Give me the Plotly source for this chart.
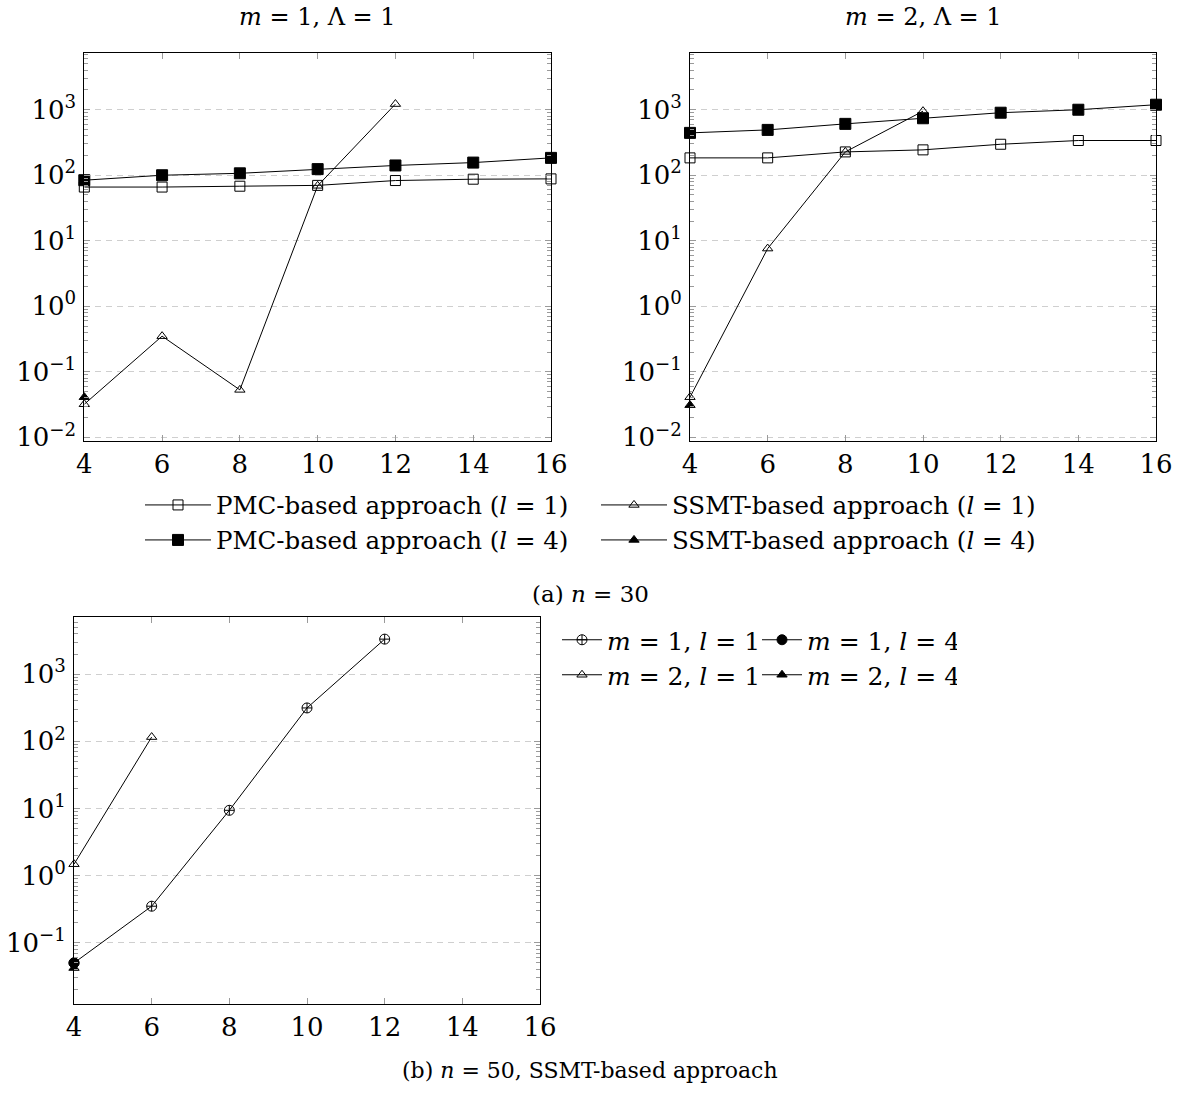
import plotly.graph_objects as go

# ---------------- data ----------------
x_all = [4, 6, 8, 10, 12, 14, 16]

# (a) n = 30, m = 1
pmc_l1_m1 = [66, 66, 68, 70, 83, 87, 88]
pmc_l4_m1 = [84, 100, 107, 124, 141, 156, 184]
ssmt_l1_m1_x = [4, 6, 8, 10, 12]
ssmt_l1_m1 = [0.032, 0.35, 0.053, 69, 1220]
ssmt_l4_m1_x = [4]
ssmt_l4_m1 = [0.041]

# (a) n = 30, m = 2
pmc_l1_m2 = [184, 184, 227, 244, 297, 339, 339]
pmc_l4_m2 = [443, 492, 608, 741, 900, 1000, 1192]
ssmt_l1_m2_x = [4, 6, 8, 10]
ssmt_l1_m2 = [0.041, 7.6, 227, 950]
ssmt_l4_m2_x = [4]
ssmt_l4_m2 = [0.031]

# (b) n = 50, SSMT
b_m1l1_x = [4, 6, 8, 10, 12]
b_m1l1 = [0.05, 0.35, 9.4, 315, 3340]
b_m1l4_x = [4]
b_m1l4 = [0.05]
b_m2l1_x = [4, 6]
b_m2l1 = [1.48, 116]
b_m2l4_x = [4]
b_m2l4 = [0.042]

x_ticks = [4, 6, 8, 10, 12, 14, 16]
y_tickvals = [0.01, 0.1, 1, 10, 100, 1000]
y_ticktext = ["10<sup>−2</sup>", "10<sup>−1</sup>", "10<sup>0</sup>",
              "10<sup>1</sup>", "10<sup>2</sup>", "10<sup>3</sup>"]

legend_a = ["PMC-based approach (<i>l</i> = 1)", "SSMT-based approach (<i>l</i> = 1)",
            "PMC-based approach (<i>l</i> = 4)", "SSMT-based approach (<i>l</i> = 4)"]
legend_b = ["<i>m</i> = 1, <i>l</i> = 1", "<i>m</i> = 1, <i>l</i> = 4",
            "<i>m</i> = 2, <i>l</i> = 1", "<i>m</i> = 2, <i>l</i> = 4"]

FONT = "DejaVu Serif"
W, H = 1180, 1093

fig = go.Figure()


def add(xs, ys, xa, ya, sym, size, name, legend, show):
    fig.add_trace(go.Scatter(
        x=xs, y=ys, xaxis=xa, yaxis=ya, mode="lines+markers", name=name,
        line=dict(color="black", width=1), cliponaxis=False,
        marker=dict(symbol=sym, size=size, color="black",
                    line=dict(color="black", width=1)),
        legend=legend, showlegend=show))


# top-left
add(x_all, pmc_l1_m1, "x", "y", "square-open", 10, legend_a[0], "legend", True)
add(ssmt_l1_m1_x, ssmt_l1_m1, "x", "y", "triangle-up-open", 9, legend_a[1], "legend", True)
add(x_all, pmc_l4_m1, "x", "y", "square", 11, legend_a[2], "legend2", True)
add(ssmt_l4_m1_x, ssmt_l4_m1, "x", "y", "triangle-up", 9, legend_a[3], "legend2", True)
# top-right
add(x_all, pmc_l1_m2, "x2", "y2", "square-open", 10, legend_a[0], "legend", False)
add(ssmt_l1_m2_x, ssmt_l1_m2, "x2", "y2", "triangle-up-open", 9, legend_a[1], "legend", False)
add(x_all, pmc_l4_m2, "x2", "y2", "square", 11, legend_a[2], "legend2", False)
add(ssmt_l4_m2_x, ssmt_l4_m2, "x2", "y2", "triangle-up", 9, legend_a[3], "legend2", False)
# bottom
add(b_m1l1_x, b_m1l1, "x3", "y3", "circle-cross-open", 10, legend_b[0], "legend3", True)
add(b_m1l4_x, b_m1l4, "x3", "y3", "circle", 10, legend_b[1], "legend3", True)
add(b_m2l1_x, b_m2l1, "x3", "y3", "triangle-up-open", 9, legend_b[2], "legend4", True)
add(b_m2l4_x, b_m2l4, "x3", "y3", "triangle-up", 9, legend_b[3], "legend4", True)


def px_x(p):
    return p / W


def px_y(p):
    return 1 - p / H


minor_vals = [k * 10.0 ** e for e in range(-3, 4) for k in range(2, 10)]

xcommon = dict(range=[4, 16], tickvals=x_ticks, ticks="inside", ticklen=6,
               tickcolor="#9a9a9a", showline=True, linecolor="black", linewidth=1,
               mirror="allticks", showgrid=False, zeroline=False,
               tickfont=dict(family=FONT, size=26, color="black"))
ycommon = dict(type="log", tickvals=y_tickvals, ticktext=y_ticktext, ticks="inside",
               ticklen=6, tickcolor="#9a9a9a", showline=True, linecolor="black",
               linewidth=1, mirror="allticks", showgrid=True, gridcolor="#cfcfcf",
               griddash="6px,5px", gridwidth=1, zeroline=False, ticklabelstandoff=2,
               minor=dict(ticks="inside", ticklen=4, tickcolor="#9a9a9a",
                          tickvals=minor_vals, showgrid=False),
               tickfont=dict(family=FONT, size=26, color="black"))

leg_common = dict(orientation="h", xanchor="left", yanchor="middle",
                  entrywidthmode="pixels", bgcolor="rgba(0,0,0,0)", tracegroupgap=0,
                  borderwidth=0)

fig.update_layout(
    width=W, height=H, margin=dict(l=0, r=0, t=0, b=0, pad=0, autoexpand=False),
    paper_bgcolor="white", plot_bgcolor="white",
    font=dict(family=FONT, color="black"),
    xaxis=dict(domain=[px_x(84.3), px_x(551)], anchor="y", **xcommon),
    yaxis=dict(domain=[px_y(441), px_y(53.3)], anchor="x", range=[-2.056, 3.861], **ycommon),
    xaxis2=dict(domain=[px_x(690), px_x(1156)], anchor="y2", **xcommon),
    yaxis2=dict(domain=[px_y(441), px_y(53.3)], anchor="x2", range=[-2.056, 3.861], **ycommon),
    xaxis3=dict(domain=[px_x(74), px_x(540)], anchor="y3", **xcommon),
    yaxis3=dict(domain=[px_y(1004), px_y(616.7)], anchor="x3", range=[-1.913, 3.858], **ycommon),
    legend=dict(x=px_x(140), y=px_y(505), entrywidth=375, itemwidth=66,
                font=dict(family=FONT, size=24.5), **leg_common),
    legend2=dict(x=px_x(140), y=px_y(540), entrywidth=375, itemwidth=66,
                 font=dict(family=FONT, size=24.5), **leg_common),
    legend3=dict(x=px_x(557), y=px_y(640), entrywidth=145, itemwidth=40,
                 font=dict(family=FONT, size=25), **leg_common),
    legend4=dict(x=px_x(557), y=px_y(675), entrywidth=145, itemwidth=40,
                 font=dict(family=FONT, size=25), **leg_common),
)

ann = [
    ("<i>m</i> = 1, Λ = 1", (84.3 + 551) / 2, 17, 24),
    ("<i>m</i> = 2, Λ = 1", (690 + 1156) / 2, 17, 24),
    ("(a) <i>n</i> = 30", 590, 594, 23),
    ("(b) <i>n</i> = 50, SSMT-based approach", 590, 1070, 22),
]
for t, ax, ay, fs in ann:
    fig.add_annotation(text=t, x=px_x(ax), y=px_y(ay), xref="paper", yref="paper",
                       xanchor="center", yanchor="middle", showarrow=False,
                       font=dict(family=FONT, size=fs, color="black"))

fig.write_html("out.html", config={"displayModeBar": False},
               post_script="document.body.style.margin='0';document.body.style.padding='0';")
